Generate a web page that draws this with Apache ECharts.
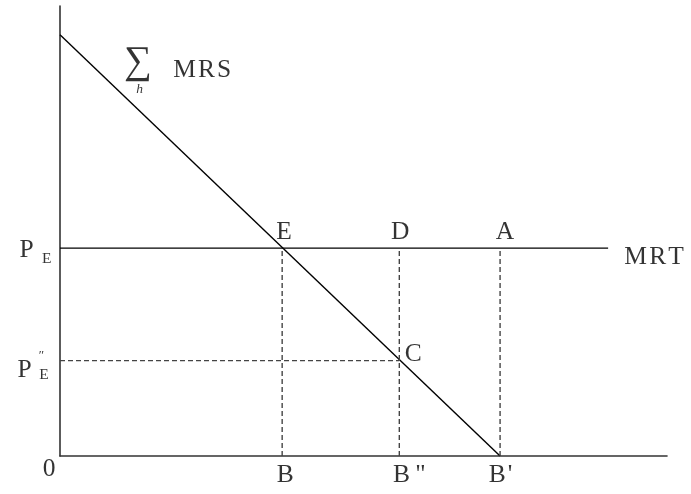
<!DOCTYPE html>
<html>
<head>
<meta charset="utf-8">
<script src="https://cdn.jsdelivr.net/npm/echarts@6/dist/echarts.min.js"></script>
<style>html,body{margin:0;padding:0;background:#fff;}#c{width:691px;height:494px;}</style>
</head>
<body>
<div id="c"></div>
<script>
// ---- data (abstract units: x 0..100, y 0..100) ----
const mrsCurve = [[0, 93.6], [72.5, 0]];      // sum of MRS (demand) line
const priceE = 46.2;                           // P_E (MRT level)
const priceLow = 21.2;                         // P_E''
const mrtEnd = 90.3;                           // end of MRT line
const qB = 36.6, qB2 = 55.9, qB1 = 72.5;       // B, B'', B'
const xTickNames = ['0', 'B', 'B\u2009"', 'B\u200A\''];
const xTickValues = [0, qB, qB2, qB1];
const pointNames = ['E', 'D', 'A', 'C'];
const pointValues = [[qB, priceE], [qB2, priceE], [qB1, priceE], [qB2, priceLow]];

const serif = 'Liberation Serif';
const txt = (size, extra) => Object.assign({
  fontFamily: serif, fontSize: size, color: '#000',
  textBorderWidth: 0, textBorderColor: 'transparent', textShadowBlur: 0
}, extra || {});

function labelPoint(value, text, offset, style) {
  return {
    value: value,
    label: Object.assign({
      show: true, position: 'inside', formatter: text, offset: offset,
      align: 'center', verticalAlign: 'middle'
    }, style)
  };
}

const big = 25.5;
const tickOffsets = [[-11, 13.5], [3, 19.5], [10, 19.5], [0.5, 19.5]];
const pointOffsets = [[2, -16], [1, -16], [5, -16], [14, -6.5]];

const labelData = [];
xTickNames.forEach((n, i) => labelData.push(labelPoint([xTickValues[i], 0], n, tickOffsets[i], txt(big))));
pointNames.forEach((n, i) => labelData.push(labelPoint(pointValues[i], n, pointOffsets[i], txt(big))));
labelData.push(labelPoint([mrtEnd, priceE], 'M\u200AR\u200AT', [46, 9], txt(big)));
// P_E
labelData.push(labelPoint([0, priceE], 'P', [-33.3, 2.5], txt(big)));
labelData.push(labelPoint([0, priceE], 'E', [-13.3, 10.5], txt(15.5)));
// P_E''
labelData.push(labelPoint([0, priceLow], 'P', [-35.3, 10], txt(big)));
labelData.push(labelPoint([0, priceLow], 'E', [-16, 14], txt(15.5)));
labelData.push(labelPoint([0, priceLow], '\u2033', [-18.5, -5], txt(13)));
// sum_h MRS
labelData.push(labelPoint(mrsCurve[0], '\u2211', [78, 28], txt(39)));
labelData.push(labelPoint(mrsCurve[0], 'h', [79.5, 55], txt(13.5, { fontStyle: 'italic' })));
labelData.push(labelPoint(mrsCurve[0], 'M\u200AR\u200AS', [142.2, 35.5], txt(big)));

const solid = { color: '#000', width: 1.4 };
const dashed = { color: '#444', width: 1.4, type: [5, 3] };
const seg = (data, style) => ({
  type: 'line', data: data, symbol: 'none', silent: true,
  lineStyle: style, z: 3
});

const chart = echarts.init(document.getElementById('c'), null, { renderer: 'canvas' });
chart.setOption({
  animation: false,
  backgroundColor: '#fff',
  grid: { left: 60, top: 6, right: 24, bottom: 38, containLabel: false },
  xAxis: {
    type: 'value', min: 0, max: 100,
    axisLine: { show: true, onZero: false, lineStyle: { color: '#333', width: 1.6 } },
    axisTick: { show: false }, axisLabel: { show: false }, splitLine: { show: false }
  },
  yAxis: {
    type: 'value', min: 0, max: 100,
    axisLine: { show: true, onZero: false, lineStyle: { color: '#333', width: 1.6 } },
    axisTick: { show: false }, axisLabel: { show: false }, splitLine: { show: false }
  },
  series: [
    seg(mrsCurve, solid),
    seg([[0, priceE], [mrtEnd, priceE]], solid),
    seg([[qB, 0], [qB, priceE]], dashed),
    seg([[qB2, 0], [qB2, priceE]], dashed),
    seg([[qB1, 0], [qB1, priceE]], dashed),
    seg([[0, priceLow], [qB2, priceLow]], dashed),
    {
      type: 'scatter', symbolSize: 0, silent: true, z: 5,
      data: labelData
    }
  ]
});
</script>
</body>
</html>
